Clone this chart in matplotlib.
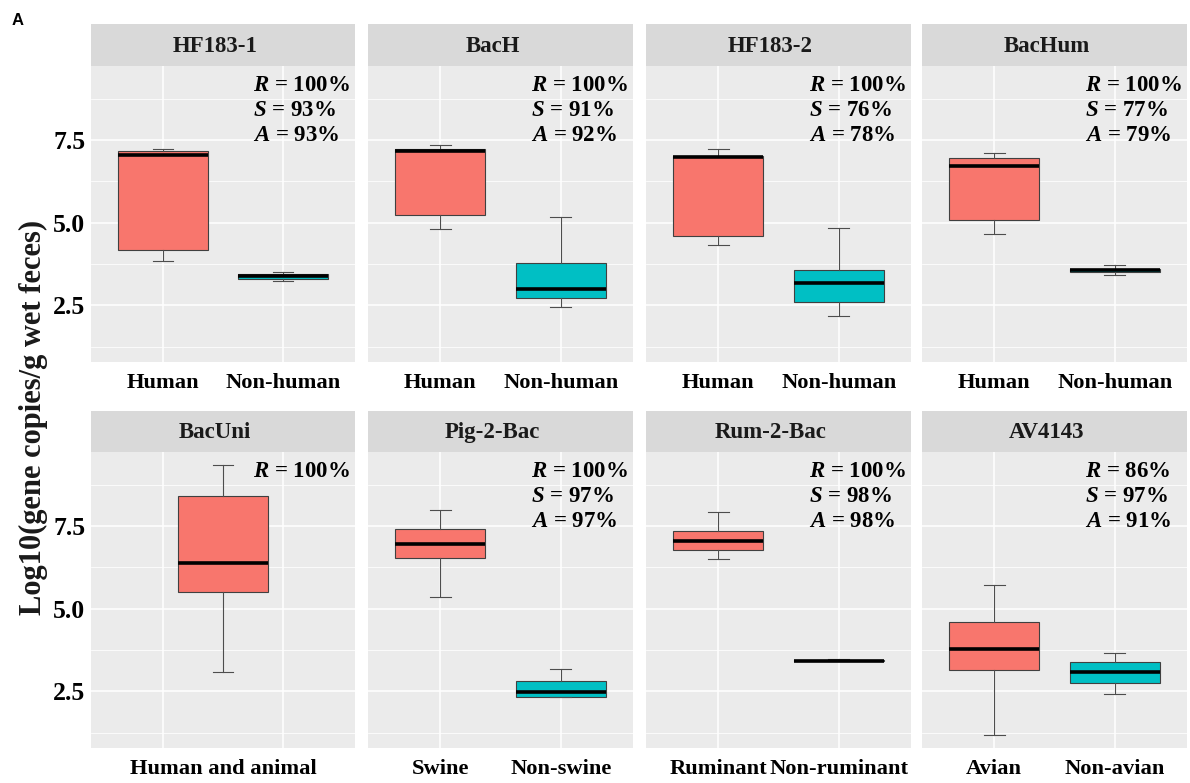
import matplotlib
matplotlib.use("Agg")
import matplotlib.pyplot as plt
from matplotlib.transforms import ScaledTranslation

plt.rcParams['mathtext.fontset'] = 'custom'
plt.rcParams['mathtext.rm'] = 'Liberation Serif:bold'
plt.rcParams['mathtext.it'] = 'Liberation Serif:italic:bold'
plt.rcParams['mathtext.bf'] = 'Liberation Serif:bold'

# ---- data -------------------------------------------------------------
markers = ["HF183-1", "BacH", "HF183-2", "BacHum",
           "BacUni", "Pig-2-Bac", "Rum-2-Bac", "AV4143"]
target_labels = ["Human", "Human", "Human", "Human",
                 "Human and animal", "Swine", "Ruminant", "Avian"]
nontarget_labels = ["Non-human", "Non-human", "Non-human", "Non-human",
                    None, "Non-swine", "Non-ruminant", "Non-avian"]

# box statistics: (lower whisker, Q1, median, Q3, upper whisker), log10 copies/g
target_stats = [
    (3.85, 4.18, 7.03, 7.18, 7.23),
    (4.80, 5.24, 7.18, 7.23, 7.35),
    (4.32, 4.58, 6.97, 7.01, 7.23),
    (4.64, 5.07, 6.70, 6.96, 7.11),
    (3.08, 5.51, 6.37, 8.41, 9.33),
    (5.34, 6.52, 6.95, 7.40, 7.99),
    (6.50, 6.77, 7.04, 7.36, 7.91),
    (1.19, 3.13, 3.77, 4.58, 5.72),
]
nontarget_stats = [
    (3.24, 3.30, 3.39, 3.46, 3.52),
    (2.44, 2.71, 2.99, 3.77, 5.18),
    (2.16, 2.59, 3.18, 3.57, 4.85),
    (3.40, 3.52, 3.57, 3.59, 3.71),
    None,
    (2.33, 2.33, 2.49, 2.80, 3.18),
    (3.40, 3.40, 3.42, 3.44, 3.48),
    (2.43, 2.75, 3.08, 3.39, 3.67),
]

sensitivity = ["100%", "100%", "100%", "100%", "100%", "100%", "100%", "86%"]
specificity = ["93%", "91%", "76%", "77%", None, "97%", "98%", "97%"]
accuracy = ["93%", "92%", "78%", "79%", None, "97%", "98%", "91%"]

y_major = [2.5, 5.0, 7.5]
y_major_labels = ["2.5", "5.0", "7.5"]
y_minor = [1.25, 3.75, 6.25, 8.75]

# ---- styling ----------------------------------------------------------
TARGET_FILL = "#F8766D"
NONTARGET_FILL = "#00BFC4"
PANEL_BG = "#EBEBEB"
STRIP_BG = "#D9D9D9"
SERIF = "Liberation Serif"

W, H = 1190, 783
fig = plt.figure(figsize=(W / 100, H / 100), dpi=100)

cols = [(91, 355), (368, 633), (646, 911), (922, 1187)]
rows = [(24, 66, 362), (411, 452, 748)]   # strip top, panel top, panel bottom


def px_axes(x0, x1, y0, y1):
    return fig.add_axes([x0 / W, 1 - y1 / H, (x1 - x0) / W, (y1 - y0) / H])


all_vals = [v for s in target_stats for v in s] + \
           [v for s in nontarget_stats if s for v in s]
lo, hi = min(all_vals), max(all_vals)
pad = (hi - lo) * 0.05
ylim = (lo - pad, hi + pad)


def stats_dict(s, label):
    return dict(whislo=s[0], q1=s[1], med=s[2], q3=s[3], whishi=s[4],
                label=label, fliers=[])


def bold_serif(labels):
    for lab in labels:
        lab.set_fontfamily(SERIF)
        lab.set_fontweight("bold")


strip_shift = ScaledTranslation(-8 / 100, 0, fig.dpi_scale_trans)

for i, name in enumerate(markers):
    r, c = divmod(i, 4)
    x0, x1 = cols[c]
    st, pt, pb = rows[r]

    # facet strip
    sax = px_axes(x0, x1, st, pt)
    sax.set_facecolor(STRIP_BG)
    sax.set_xticks([])
    sax.set_yticks([])
    for sp in sax.spines.values():
        sp.set_visible(False)
    sax.text(0.5, 0.47, name, ha="center", va="center", fontsize=16.5,
             fontfamily=SERIF, fontweight="bold", color="#1A1A1A",
             transform=sax.transAxes + strip_shift)

    # panel
    ax = px_axes(x0, x1, pt, pb)
    ax.set_facecolor(PANEL_BG)
    for sp in ax.spines.values():
        sp.set_visible(False)
    ax.set_axisbelow(True)
    ax.set_xlim(0.4, 2.6)
    ax.set_ylim(*ylim)
    ax.set_yticks(y_major)
    ax.set_yticks(y_minor, minor=True)
    ax.grid(True, which="major", color="white", linewidth=1.1)
    ax.grid(True, which="minor", axis="y", color="white", linewidth=0.55)

    boxes, positions, fills = [], [], []
    boxes.append(stats_dict(target_stats[i], target_labels[i]))
    fills.append(TARGET_FILL)
    if nontarget_stats[i] is None:
        positions.append(1.5)
    else:
        boxes.append(stats_dict(nontarget_stats[i], nontarget_labels[i]))
        positions += [1, 2]
        fills.append(NONTARGET_FILL)

    bp = ax.bxp(boxes, positions=positions, widths=0.75, capwidths=0.17,
                patch_artist=True, showfliers=False,
                boxprops=dict(edgecolor="#404040", linewidth=0.8),
                whiskerprops=dict(color="#4D4D4D", linewidth=0.8),
                capprops=dict(color="#4D4D4D", linewidth=0.8),
                medianprops=dict(color="black", linewidth=2.6,
                                 solid_capstyle="butt"),
                manage_ticks=False)
    for patch, col in zip(bp["boxes"], fills):
        patch.set_facecolor(col)

    ax.set_xticks([1, 2])
    if nontarget_stats[i] is None:
        ax.set_xticklabels(["", ""])
        ax.set_xticks([1.5], minor=True)
        ax.set_xticklabels([target_labels[i]], minor=True)
    else:
        ax.set_xticklabels([target_labels[i], nontarget_labels[i]])
    ax.set_yticklabels(y_major_labels)

    ax.tick_params(axis="both", which="both", length=0)
    ax.tick_params(axis="x", which="both", pad=8, labelsize=16.2,
                   labelcolor="black")
    ax.tick_params(axis="y", which="major", pad=4, labelsize=18.5,
                   labelcolor="black", labelleft=(c == 0))
    ax.tick_params(axis="y", which="minor", labelleft=False)
    bold_serif(ax.get_xticklabels(which="both"))
    bold_serif(ax.get_yticklabels())

    # performance annotations
    lines = [("R", sensitivity[i]), ("S", specificity[i]), ("A", accuracy[i])]
    for k, (sym, val) in enumerate(lines):
        if val is None:
            continue
        ax.text(1.75, 8.98 - 0.76 * k, r"$\mathit{%s}$ = %s" % (sym, val),
                ha="left", va="baseline", fontsize=16.5, fontfamily=SERIF,
                fontweight="bold", color="black")

fig.text(33 / W, 1 - 417 / H, "Log10(gene copies/g wet feces)", rotation=90,
         ha="center", va="center", fontsize=22, fontfamily=SERIF,
         fontweight="bold", color="#1A1A1A")
fig.text(12 / W, 1 - 13 / H, "A", ha="left", va="top", fontsize=12,
         fontfamily="Liberation Sans", fontweight="bold")

fig.savefig("out.png", dpi=100)
